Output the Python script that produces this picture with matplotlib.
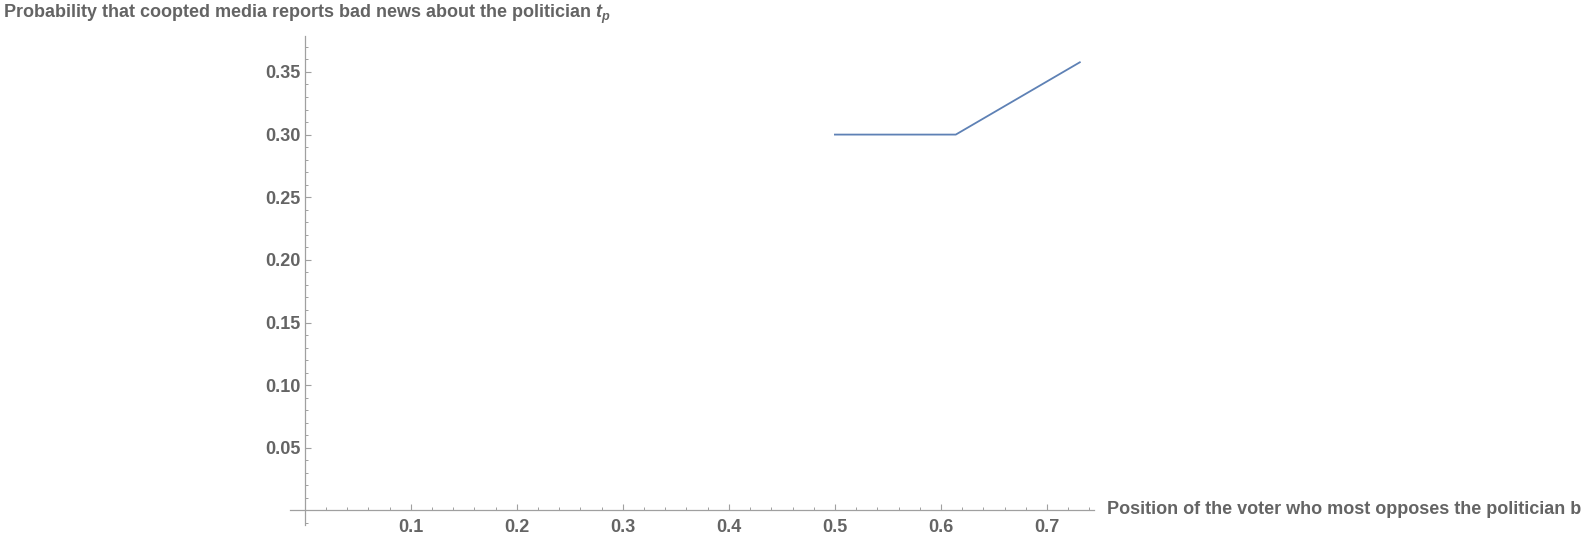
import matplotlib
matplotlib.use("Agg")
import matplotlib.pyplot as plt
from matplotlib.ticker import MultipleLocator, FixedLocator

# Data
b_values = [0.5, 0.614, 0.731]
tp_values = [0.30, 0.30, 0.3577]
x_ticks = [0.1, 0.2, 0.3, 0.4, 0.5, 0.6, 0.7]
y_ticks = [0.05, 0.10, 0.15, 0.20, 0.25, 0.30, 0.35]
title_text = r"Probability that coopted media reports bad news about the politician $t_p$"
xlabel_text = "Position of the voter who most opposes the politician b"

plt.rcParams['font.family'] = ['Liberation Sans', 'DejaVu Sans']
plt.rcParams['font.weight'] = 'bold'
plt.rcParams['mathtext.fontset'] = 'custom'
plt.rcParams['mathtext.it'] = 'Liberation Sans:italic:bold'
plt.rcParams['mathtext.rm'] = 'Liberation Sans:bold'

W, H = 1595, 539
fig = plt.figure(figsize=(W/100, H/100), dpi=100)
left_px, right_px, top_px, bot_px = 290, 1093.6, 35.6, 525
ax = fig.add_axes([left_px/W, 1 - bot_px/H, (right_px-left_px)/W, (bot_px-top_px)/H])

txt_color = '#646464'
axis_color = '#a0a0a0'
fs = 13

ax.plot(b_values, tp_values, color='#5E81B5', lw=1.3)
ax.set_xlim(-0.014, 0.744)
ax.set_ylim(-0.0116, 0.379)

for s in ['top', 'right']:
    ax.spines[s].set_visible(False)
ax.spines['left'].set_position(('data', 0))
ax.spines['bottom'].set_position(('data', 0))
for s in ['left', 'bottom']:
    ax.spines[s].set_color(axis_color)
    ax.spines[s].set_linewidth(0.9)

ax.xaxis.set_major_locator(FixedLocator(x_ticks))
ax.yaxis.set_major_locator(FixedLocator(y_ticks))
ax.xaxis.set_minor_locator(MultipleLocator(0.02))
ax.yaxis.set_minor_locator(MultipleLocator(0.01))
ax.set_xticklabels([f"{v:.1f}" for v in x_ticks])
ax.set_yticklabels([f"{v:.2f}" for v in y_ticks])

ax.tick_params(axis='both', which='major', direction='in', length=4.5, width=0.8,
               color=axis_color, labelcolor=txt_color, labelsize=fs)
ax.tick_params(axis='both', which='minor', direction='in', length=2.5, width=0.7,
               color=axis_color)
ax.tick_params(axis='x', which='major', pad=6)
ax.tick_params(axis='y', which='major', pad=3)
for lbl in ax.get_xticklabels() + ax.get_yticklabels():
    lbl.set_fontweight('bold')

fig.text(3/W, 1 - 14.5/H, title_text, color=txt_color, fontsize=fs, fontweight='bold',
         ha='left', va='center')
fig.text(1107/W, 1 - 509/H, xlabel_text, color=txt_color, fontsize=fs, fontweight='bold',
         ha='left', va='center')

fig.savefig("out.png", dpi=100)
